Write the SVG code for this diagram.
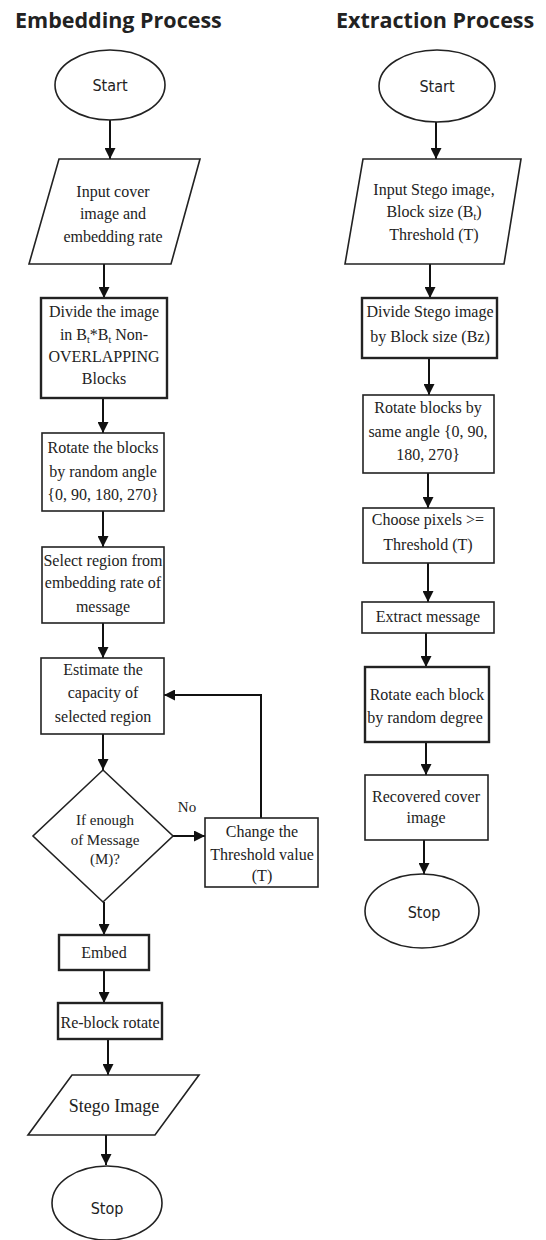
<svg xmlns="http://www.w3.org/2000/svg" width="546" height="1240" viewBox="0 0 546 1240">
<defs>
<marker id="ah" markerUnits="userSpaceOnUse" markerWidth="11" markerHeight="11" viewBox="0 0 10 10" refX="10" refY="5" orient="auto">
<path d="M0,0 L10,5 L0,10 z" fill="#111"/>
</marker>
<style>
.shape{fill:#fff;stroke:#222;stroke-width:1.6}
.thick{stroke-width:2.4}
.t{font-family:"Liberation Serif","Times New Roman",serif;font-size:16px;fill:#222;text-anchor:middle}
.s{font-family:"Liberation Sans Narrow","DejaVu Sans Condensed","Liberation Sans",sans-serif;font-size:16px;fill:#222;text-anchor:middle}
.title{font-family:"Open Sans","DejaVu Sans",sans-serif;font-weight:bold;font-size:21.5px;fill:#222}
.c line,.c polyline{stroke:#111;stroke-width:2;fill:none;marker-end:url(#ah)}
</style>
</defs>
<rect width="546" height="1240" fill="#fff"/>
<text class="title" x="15" y="28">Embedding Process</text>
<text class="title" x="336" y="28">Extraction Process</text>

<g class="c" id="connectors">
<line x1="110" y1="120" x2="110" y2="159"/>
<line x1="104" y1="264" x2="104" y2="298"/>
<line x1="103" y1="398" x2="103" y2="433"/>
<line x1="103" y1="511" x2="103" y2="547"/>
<line x1="103" y1="623" x2="103" y2="658"/>
<line x1="103" y1="734" x2="103" y2="770"/>
<line x1="173" y1="836" x2="205" y2="836"/>
<polyline points="261,818 261,695 164,695"/>
<line x1="104" y1="902" x2="104" y2="935"/>
<line x1="104" y1="970" x2="104" y2="1003"/>
<line x1="108" y1="1039" x2="108" y2="1075"/>
<line x1="106" y1="1135" x2="106" y2="1165"/>
<line x1="436" y1="122" x2="436" y2="159"/>
<line x1="430" y1="264" x2="430" y2="298"/>
<line x1="429" y1="358" x2="429" y2="395"/>
<line x1="428" y1="473" x2="428" y2="508"/>
<line x1="428" y1="563" x2="428" y2="602"/>
<line x1="426" y1="633" x2="426" y2="667"/>
<line x1="426" y1="742" x2="426" y2="775"/>
<line x1="424" y1="840" x2="424" y2="874"/>
</g>
<text class="t" x="187" y="812" style="font-size:15px">No</text>

<g id="e-start"><ellipse class="shape" cx="110" cy="85" rx="55" ry="35"/><text class="s" x="110" y="91">Start</text></g>
<g id="e-input"><polygon class="shape" points="59,159 200,159 171,264 29,264"/>
<text class="t" x="113" y="197">Input cover</text><text class="t" x="113" y="219">image and</text><text class="t" x="113" y="242">embedding rate</text></g>
<g id="e-divide"><rect class="shape thick" x="41" y="298" width="126" height="100"/>
<text class="t" x="104" y="317">Divide the image</text>
<text class="t" x="104" y="340">in B<tspan dy="3" font-size="10">t</tspan><tspan dy="-3">*B</tspan><tspan dy="3" font-size="10">t</tspan><tspan dy="-3"> Non-</tspan></text>
<text class="t" x="104" y="362">OVERLAPPING</text><text class="t" x="104" y="384">Blocks</text></g>
<g id="e-rotate"><rect class="shape" x="42" y="433" width="122" height="78"/>
<text class="t" x="103" y="453">Rotate the blocks</text><text class="t" x="103" y="477">by random angle</text><text class="t" x="103" y="500">{0, 90, 180, 270}</text></g>
<g id="e-select"><rect class="shape" x="42" y="547" width="122" height="76"/>
<text class="t" x="103" y="566">Select region from</text><text class="t" x="103" y="588">embedding rate of</text><text class="t" x="103" y="612">message</text></g>
<g id="e-estimate"><rect class="shape" x="41" y="658" width="123" height="76"/>
<text class="t" x="103" y="675">Estimate the</text><text class="t" x="103" y="698">capacity of</text><text class="t" x="103" y="722">selected region</text></g>
<g id="e-decision"><polygon class="shape" points="103,770 173,836 103,902 33,836"/>
<text class="t" x="105" y="825" style="font-size:15px">If enough</text><text class="t" x="105" y="845" style="font-size:15px">of Message</text><text class="t" x="105" y="864" style="font-size:15px">(M)?</text></g>
<g id="e-change"><rect class="shape" x="205" y="818" width="113" height="69"/>
<text class="t" x="262" y="837">Change the</text><text class="t" x="262" y="860">Threshold value</text><text class="t" x="262" y="881">(T)</text></g>
<g id="e-embed"><rect class="shape thick" x="59" y="935" width="90" height="35"/><text class="t" x="104" y="958">Embed</text></g>
<g id="e-reblock"><rect class="shape thick" x="58" y="1003" width="104" height="36"/><text class="t" x="110" y="1028">Re-block rotate</text></g>
<g id="e-stego"><polygon class="shape" points="72,1075 199,1075 155,1135 28,1135"/><text class="t" x="114" y="1112" style="font-size:18px">Stego Image</text></g>
<g id="e-stop"><ellipse class="shape" cx="107" cy="1203" rx="55" ry="37"/><text class="s" x="107" y="1214">Stop</text></g>

<g id="x-start"><ellipse class="shape" cx="437" cy="86" rx="58" ry="36"/><text class="s" x="437" y="92">Start</text></g>
<g id="x-input"><polygon class="shape" points="363,159 521,159 504,264 345,264"/>
<text class="t" x="434" y="195">Input Stego image,</text>
<text class="t" x="434" y="217">Block size (B<tspan dy="3" font-size="10">t</tspan><tspan dy="-3">)</tspan></text>
<text class="t" x="434" y="240">Threshold (T)</text></g>
<g id="x-divide"><rect class="shape thick" x="362" y="298" width="135" height="60"/>
<text class="t" x="430" y="317">Divide Stego image</text><text class="t" x="430" y="342">by Block size (Bz)</text></g>
<g id="x-rotate"><rect class="shape" x="363" y="395" width="131" height="78"/>
<text class="t" x="428" y="413">Rotate blocks by</text><text class="t" x="428" y="437">same angle {0, 90,</text><text class="t" x="428" y="460">180, 270}</text></g>
<g id="x-choose"><rect class="shape" x="363" y="508" width="131" height="55"/>
<text class="t" x="428" y="525">Choose pixels &gt;=</text><text class="t" x="428" y="550">Threshold (T)</text></g>
<g id="x-extract"><rect class="shape" x="362" y="602" width="132" height="31"/><text class="t" x="428" y="622">Extract message</text></g>
<g id="x-rotate2"><rect class="shape thick" x="365" y="667" width="124" height="75"/>
<text class="t" x="427" y="700">Rotate each block</text><text class="t" x="425" y="723">by random degree</text></g>
<g id="x-recover"><rect class="shape" x="365" y="775" width="123" height="65"/>
<text class="t" x="426" y="802">Recovered cover</text><text class="t" x="426" y="823">image</text></g>
<g id="x-stop"><ellipse class="shape" cx="422" cy="911" rx="57" ry="37"/><text class="s" x="424" y="918">Stop</text></g>
</svg>
